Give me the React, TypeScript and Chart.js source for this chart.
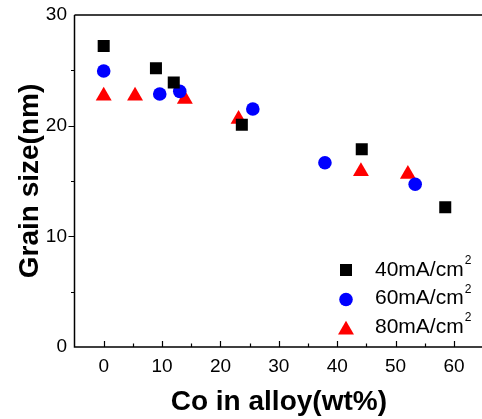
import React, { useEffect, useRef } from 'react';
import { Chart, registerables } from 'chart.js';

Chart.register(...registerables);

// ---- data ----
const xTickValues = [0, 10, 20, 30, 40, 50, 60];
const yTickValues = [0, 10, 20, 30];
const seriesLabels = ['40mA/cm', '60mA/cm', '80mA/cm'];
const labelSup = '2';

const co40 = [0, 8.95, 12.0, 23.66, 44.2, 58.5];
const grain40 = [27.2, 25.18, 23.9, 20.09, 17.87, 12.63];
const co60 = [0, 9.6, 13.03, 25.54, 37.89, 53.35];
const grain60 = [24.94, 22.86, 23.1, 21.5, 16.65, 14.71];
const co80 = [0, 5.37, 13.9, 23.1, 44.06, 52.1];
const grain80 = [22.69, 22.69, 22.39, 20.58, 15.86, 15.61];

const xTitle = 'Co in alloy(wt%)';
const yTitle = 'Grain size(nm)';

const FAMILY = '"Liberation Sans", Arial, Helvetica, sans-serif';

function drawMarker(ctx: CanvasRenderingContext2D, style: string, r: number, x: number, y: number, color: string) {
  ctx.fillStyle = color;
  ctx.beginPath();
  if (style === 'rect') {
    const s = Math.SQRT1_2 * r;
    ctx.rect(x - s, y - s, 2 * s, 2 * s);
  } else if (style === 'triangle') {
    let rad = 0;
    ctx.moveTo(x + Math.sin(rad) * r, y - Math.cos(rad) * r);
    rad += (2 * Math.PI) / 3;
    ctx.lineTo(x + Math.sin(rad) * r, y - Math.cos(rad) * r);
    rad += (2 * Math.PI) / 3;
    ctx.lineTo(x + Math.sin(rad) * r, y - Math.cos(rad) * r);
    ctx.closePath();
  } else {
    ctx.arc(x, y, r, 0, Math.PI * 2);
  }
  ctx.fill();
}

const framePlugin = {
  id: 'frameAxes',
  beforeDatasetsDraw(chart: any) {
    const { ctx, chartArea: a, scales } = chart;
    const xs = scales.x;
    const ys = scales.y;
    ctx.save();
    ctx.strokeStyle = '#000';
    ctx.lineWidth = 1.5;
    ctx.beginPath();
    ctx.moveTo(a.left, a.top);
    ctx.lineTo(a.right, a.top);
    ctx.moveTo(a.left, a.top);
    ctx.lineTo(a.left, a.bottom);
    ctx.lineTo(a.right, a.bottom);
    ctx.moveTo(a.right, a.top);
    ctx.lineTo(a.right, a.bottom);
    ctx.stroke();

    ctx.lineWidth = 1.2;
    ctx.beginPath();
    // x ticks (inward), every 5
    for (let v = xs.min + 5; v < xs.max; v += 5) {
      const px = Math.round(xs.getPixelForValue(v)) + 0.5;
      const major = v % 10 === 0;
      ctx.moveTo(px, a.bottom);
      ctx.lineTo(px, a.bottom - (major ? 6 : 3.5));
    }
    // y ticks (outward), every 5
    for (let v = ys.min + 5; v < ys.max; v += 5) {
      const py = Math.round(ys.getPixelForValue(v)) + 0.5;
      const major = v % 10 === 0;
      ctx.moveTo(a.left, py);
      ctx.lineTo(a.left - (major ? 6 : 3.5), py);
    }
    ctx.stroke();
    ctx.restore();
  },
};

const legendPlugin = {
  id: 'innerLegend',
  afterDraw(chart: any) {
    const { ctx, chartArea: a } = chart;
    ctx.save();
    chart.data.datasets.forEach((ds: any, i: number) => {
      const rowY = a.bottom - 77 + i * 28.5;
      const mx = a.right - 137.2;
      const my = ds.pointStyle === 'triangle' ? rowY + 3 : ds.pointStyle === 'circle' ? rowY + 1 : rowY;
      drawMarker(ctx, ds.pointStyle, ds.pointRadius, mx, my, ds.backgroundColor);
      const tx = a.right - 108.2;
      ctx.fillStyle = '#000';
      ctx.textAlign = 'left';
      ctx.textBaseline = 'middle';
      ctx.font = `21px ${FAMILY}`;
      ctx.fillText(seriesLabels[i], tx, rowY);
      const w = ctx.measureText(seriesLabels[i]).width;
      ctx.font = `12px ${FAMILY}`;
      ctx.fillText(labelSup, tx + w + 1, rowY - 9);
    });
    ctx.restore();
  },
};

function toPoints(xs: number[], ys: number[]) {
  return xs.map((x, i) => ({ x, y: ys[i] }));
}

export default function App() {
  const ref = useRef<HTMLCanvasElement | null>(null);

  useEffect(() => {
    if (!ref.current) return;
    const tickFont = { family: FAMILY, size: 19 };
    const titleFont = { family: FAMILY, size: 28, weight: 'bold' as const };
    const chart = new Chart(ref.current, {
      type: 'scatter',
      data: {
        datasets: [
          {
            label: seriesLabels[0],
            data: toPoints(co40, grain40),
            pointStyle: 'rect',
            pointRadius: 8.5,
            backgroundColor: '#000000',
            borderWidth: 0,
          },
          {
            label: seriesLabels[1],
            data: toPoints(co60, grain60),
            pointStyle: 'circle',
            pointRadius: 6.8,
            backgroundColor: '#0000ff',
            borderWidth: 0,
          },
          {
            label: seriesLabels[2],
            data: toPoints(co80, grain80),
            pointStyle: 'triangle',
            pointRadius: 9.2,
            backgroundColor: '#ff0000',
            borderWidth: 0,
          },
        ] as any,
      },
      options: {
        responsive: false,
        animation: false,
        layout: { padding: { top: 15, right: 16.8, left: 0, bottom: 0 } },
        plugins: { legend: { display: false }, tooltip: { enabled: false } },
        scales: {
          x: {
            type: 'linear',
            min: -5,
            max: 65,
            afterBuildTicks: (s: any) => {
              s.ticks = xTickValues.map((v) => ({ value: v }));
            },
            afterFit: (s: any) => {
              s.height = 72;
              s.paddingLeft = 0;
              s.paddingRight = 0;
              s.paddingTop = 0;
              s.paddingBottom = 0;
            },
            grid: { display: false, drawTicks: false },
            border: { display: false },
            ticks: { font: tickFont, color: '#000', padding: 8, maxRotation: 0 },
            title: {
              display: true,
              text: xTitle,
              font: titleFont,
              color: '#000',
              padding: { top: 4, bottom: 0 },
            },
          },
          y: {
            type: 'linear',
            min: 0,
            max: 30,
            afterBuildTicks: (s: any) => {
              s.ticks = yTickValues.map((v) => ({ value: v }));
            },
            afterFit: (s: any) => {
              s.width = 74.5;
              s.paddingLeft = 0;
              s.paddingRight = 0;
              s.paddingTop = 0;
              s.paddingBottom = 0;
            },
            grid: { display: false, drawTicks: false },
            border: { display: false },
            ticks: { font: tickFont, color: '#000', padding: 7.5 },
            title: {
              display: true,
              text: yTitle,
              font: titleFont,
              color: '#000',
              padding: { top: 13, bottom: 0 },
            },
          },
        },
      } as any,
      plugins: [framePlugin, legendPlugin],
    });
    return () => chart.destroy();
  }, []);

  return (
    <div style={{ position: 'fixed', left: 0, top: 0, width: 482, height: 419, overflow: 'hidden', background: '#fff' }}>
      <canvas ref={ref} width={500} height={419} style={{ display: 'block', width: 500, height: 419 }} />
    </div>
  );
}
